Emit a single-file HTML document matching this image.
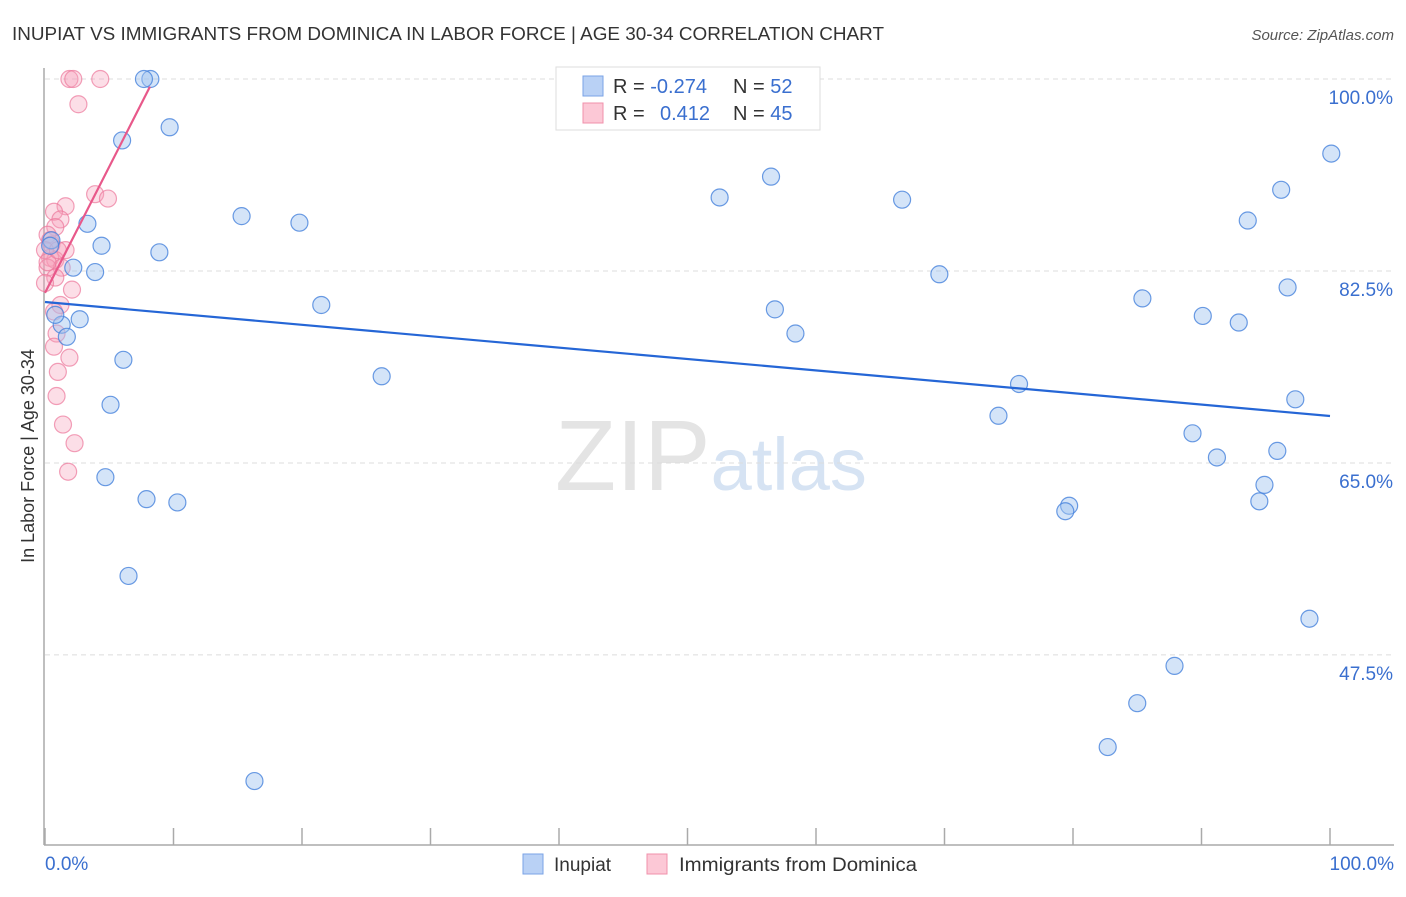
<!DOCTYPE html>
<html><head><meta charset="utf-8"><style>
body{margin:0;background:#fff;font-family:"Liberation Sans",sans-serif;}
svg text{font-family:"Liberation Sans",sans-serif;}
</style></head><body>
<svg id="chart" width="1406" height="892" xmlns="http://www.w3.org/2000/svg">
<text x="12" y="40" font-size="18" fill="#333" textLength="872" lengthAdjust="spacingAndGlyphs">INUPIAT VS IMMIGRANTS FROM DOMINICA IN LABOR FORCE | AGE 30-34 CORRELATION CHART</text>
<text x="1394" y="40" font-size="15" fill="#555" font-style="italic" text-anchor="end">Source: ZipAtlas.com</text>
<text x="555" y="490" font-size="100" fill="#e4e4e4" font-family="Liberation Serif">ZIP<tspan fill="#d6e3f3" font-family="Liberation Sans" font-size="74">atlas</tspan></text>
<g id="grid"></g><g id="axes"></g><g id="pts"></g><g id="lines"></g>
<text transform="translate(34,456) rotate(-90)" font-size="18" fill="#333" text-anchor="middle">In Labor Force | Age 30-34</text>
<text x="45" y="870" font-size="19" fill="#3a6fcf">0.0%</text>
<text x="1394" y="870" font-size="19" fill="#3a6fcf" text-anchor="end">100.0%</text>
<g>
<rect x="556" y="67" width="264" height="63" fill="#fff" stroke="#ddd"/>
<rect x="583" y="76" width="20" height="20" fill="#b9d1f5" stroke="#7aa3e6"/>
<rect x="583" y="103" width="20" height="20" fill="#fcc8d6" stroke="#f090ab"/>
<text x="613" y="93" font-size="20" fill="#333">R = <tspan fill="#3a6fcf">-0.274</tspan><tspan x="733">N = </tspan><tspan fill="#3a6fcf">52</tspan></text>
<text x="613" y="120" font-size="20" fill="#333">R = <tspan x="660" fill="#3a6fcf">0.412</tspan><tspan x="733">N = </tspan><tspan fill="#3a6fcf">45</tspan></text>
</g>
<g>
<rect x="523" y="854" width="20" height="20" fill="#b9d1f5" stroke="#7aa3e6"/>
<text x="554" y="871" font-size="19" fill="#333">Inupiat</text>
<rect x="647" y="854" width="20" height="20" fill="#fcc8d6" stroke="#f090ab"/>
<text x="679" y="871" font-size="19" fill="#333" textLength="238" lengthAdjust="spacingAndGlyphs">Immigrants from Dominica</text>
</g>
</svg>
<script>
const yTicks=[100,82.5,65,47.5];
const yTickLabels=["100.0%","82.5%","65.0%","47.5%"];
const blueX=[8.2,7.7,6.0,9.7,15.3,19.8,3.3,4.4,8.9,2.2,3.9,21.5,2.7,1.3,0.8,1.7,6.1,26.2,5.1,4.7,7.9,10.3,6.5,16.3,52.5,56.5,66.7,100.1,96.2,93.6,69.6,96.7,85.4,56.8,58.4,90.1,92.9,75.8,74.2,97.3,89.3,91.2,95.9,94.9,94.5,79.7,79.4,98.4,87.9,85.0,82.7,0.5,0.4];
const blueY=[100,100,94.4,95.6,87.5,86.9,86.8,84.8,84.2,82.8,82.4,79.4,78.1,77.6,78.5,76.5,74.4,72.9,70.3,63.7,61.7,61.4,54.7,36.0,89.2,91.1,89.0,93.2,89.9,87.1,82.2,81.0,80.0,79.0,76.8,78.4,77.8,72.2,69.3,70.8,67.7,65.5,66.1,63.0,61.5,61.1,60.6,50.8,46.5,43.1,39.1,85.3,84.8];
const pinkX=[1.9,2.2,4.3,2.6,3.9,4.9,1.6,0.7,1.2,0.8,0.2,0.5,1.6,0.4,0.8,1.3,0.2,0.8,2.1,1.2,0.7,0.9,0.7,1.9,1.0,0.9,1.4,2.3,1.8,0.4,0,0.2,1.0,0];
const pinkY=[100,100,100,97.7,89.5,89.1,88.4,87.9,87.2,86.5,85.8,84.9,84.4,83.7,83.5,82.8,82.8,81.9,80.8,79.4,78.8,76.8,75.6,74.6,73.3,71.1,68.5,66.8,64.2,85.3,84.4,83.3,84.4,81.4];
const blueLine=[[0,79.67],[100,69.28]];
const pinkLine=[[0,80.5],[8.17,99.3]];
const NS="http://www.w3.org/2000/svg";
const X0=45,X1=1330,Y100=79,PXPER=10.97;
const sx=v=>X0+(X1-X0)*v/100;
const sy=v=>Y100+(100-v)*PXPER;
function mk(tag,attrs,parent){const e=document.createElementNS(NS,tag);for(const k in attrs)e.setAttribute(k,attrs[k]);document.getElementById(parent).appendChild(e);return e;}
yTicks.forEach((t,i)=>{
  const l=mk('line',{x1:45,x2:1394,y1:sy(t),y2:sy(t),stroke:'#dcdcdc','stroke-dasharray':'5,4'},'grid');
  
  
  const tx=mk('text',{x:1393,y:sy(t)+25,'font-size':19,fill:'#3a6fcf','text-anchor':'end'},'grid');
  tx.textContent=yTickLabels[i];
  
  
});
let ax=mk('line',{x1:44,x2:44,y1:68,y2:845,stroke:'#aaa','stroke-width':1.5},'axes');


ax=mk('line',{x1:44,x2:1394,y1:845,y2:845,stroke:'#aaa','stroke-width':1.5},'axes');


for(let i=0;i<=10;i++){
  const t=mk('line',{x1:sx(i*10),x2:sx(i*10),y1:828,y2:845,stroke:'#aaa','stroke-width':1.5},'axes');
  
  
}
pinkX.forEach((x,i)=>{
  const c=mk('circle',{cx:sx(x),cy:sy(pinkY[i]),r:8.5,fill:'rgba(247,160,186,0.35)',stroke:'rgba(236,120,155,0.7)','stroke-width':1.2},'pts');
  
  
});
blueX.forEach((x,i)=>{
  const c=mk('circle',{cx:sx(x),cy:sy(blueY[i]),r:8.5,fill:'rgba(160,195,240,0.45)',stroke:'rgba(70,130,220,0.8)','stroke-width':1.2},'pts');
  
  
});
let ln=mk('line',{x1:sx(blueLine[0][0]),y1:sy(blueLine[0][1]),x2:sx(blueLine[1][0]),y2:sy(blueLine[1][1]),stroke:'#2566d6','stroke-width':2.2},'lines');


ln=mk('line',{x1:sx(pinkLine[0][0]),y1:sy(pinkLine[0][1]),x2:sx(pinkLine[1][0]),y2:sy(pinkLine[1][1]),stroke:'#e8588a','stroke-width':2.2},'lines');


</script>
</body></html>
